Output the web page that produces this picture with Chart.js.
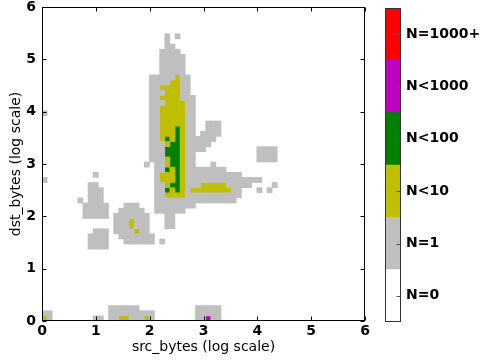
<!DOCTYPE html>
<html>
<head>
<meta charset="utf-8">
<script src="https://cdn.jsdelivr.net/npm/chart.js@4.4.1/dist/chart.umd.min.js"></script>
<style>
  body { margin: 0; background: #fff; }
  #wrap { position: relative; width: 481px; height: 362px; }
  #main { position: absolute; left: 0; top: 0; width: 375px; height: 362px; }
  #side { position: absolute; left: 375px; top: 0; width: 106px; height: 362px; }
</style>
</head>
<body>
<div id="wrap">
  <div id="main"><canvas id="heat"></canvas></div>
  <div id="side"><canvas id="scale"></canvas></div>
</div>
<script>
const FONT = 'DejaVu Sans'

// bin size of the 2d histogram, in log10 units
const BIN_X = 0.095
const BIN_Y = 0.098

const levelLabels = ['N=0', 'N=1', 'N<10', 'N<100', 'N<1000', 'N=1000+']
const levelColors = ['#ffffff', '#bfbfbf', '#bfbf00', '#008000', '#bf00bf', '#ff0000']
const tickValues = [0, 1, 2, 3, 4, 5, 6]

// one string per row of bins, top row first, bottom row (dst ~ 0) last
// each char is the level of a src bin: '.'=0, '1'=N=1, '2'=N<10, '3'=N<100, '4'=N<1000
// '|' is only a separator every 10 bins
const binRows = [
  '..........|..........|....1.1...',
  '..........|..........|....1.....',
  '..........|..........|....11....',
  '..........|..........|...1111...',
  '..........|..........|...11111..',
  '..........|..........|...11111..',
  '..........|..........|...11111..',
  '..........|..........|...11111..',
  '..........|..........|.11111211.',
  '..........|..........|.11112211.',
  '..........|..........|.11222211.',
  '..........|..........|.11122211.',
  '..........|..........|.112222111',
  '..........|..........|.111222211',
  '..........|..........|.112222211',
  '1.........|..........|.112222211',
  '..........|..........|.112222211',
  '..........|..........|.112222211|..111.....',
  '..........|..........|.112223211|..111.....',
  '..........|..........|.112223211|.1111.....',
  '..........|..........|.112323211|1111......',
  '..........|..........|.111233211|111.......',
  '..........|..........|.111333211|11........|..1111',
  '..........|..........|.111333211|..........|..1111',
  '..........|..........|.111233211|..........|..1111',
  '..........|..........|1.11233211|...1......',
  '..........|..........|..11323211|111111....',
  '..........|1.........|..12223211|111111111.',
  '1.........|..........|..12223211|1111111111|111...',
  '.........1|1.........|..11233211|1222221111|1....1',
  '.........1|11........|..11323212|222222211.|..1.1.',
  '.........1|11........|..11222211|111111111.',
  '.......1.1|11........|..11111111|11111111..',
  '........11|111...111.|..11111111',
  '........11|111..11111|..111111..',
  '........11|111.111111|1...11....',
  '..........|....111211|1...11....',
  '..........|....111211|1...11....',
  '..........|111.111121|1.........',
  '.........1|111..11111|11........',
  '.........1|111...1111|11.1......',
  '.........1|111.......',
  '', '', '', '', '', '', '', '', '', '', '',
  '..........|...111111.|..........|11111',
  '11........|...1111111|11........|11111',
  '21........|11.1122111|21........|11411'
]

const grid = binRows.map(s => s.replace(/\|/g, ''))
const nRows = grid.length
const nCols = Math.max(...grid.map(s => s.length))

function levelAt(col, row) {
  let ch = grid[nRows - 1 - row][col]
  return ch && ch !== '.' ? +ch : 0
}

// one dataset per level, each column split in vertical runs of the same level
let datasets = []
for (let lvl = 1; lvl < levelColors.length; lvl++) {
  let runs = []
  for (let c = 0; c < nCols; c++) {
    let r = 0
    while (r < nRows) {
      if (levelAt(c, r) === lvl) {
        let r0 = r
        while (r < nRows && levelAt(c, r) === lvl) r++
        runs.push({ x: (c + 0.5) * BIN_X, y: [r0 * BIN_Y, r * BIN_Y] })
      } else {
        r++
      }
    }
  }
  datasets.push({
    label: levelLabels[lvl],
    data: runs,
    backgroundColor: levelColors[lvl],
    barPercentage: 1,
    categoryPercentage: 1,
    grouped: false
  })
}

// matplotlib style box with inward ticks on all sides
const frameTicks = {
  id: 'frameTicks',
  afterDatasetsDraw(chart) {
    const { ctx, chartArea: a, scales: { x, y } } = chart
    const L = Math.round(a.left) + 0.5, R = Math.round(a.right) - 0.5
    const T = Math.round(a.top) + 0.5, B = Math.round(a.bottom) - 0.5
    ctx.save()
    ctx.strokeStyle = '#000'
    ctx.lineWidth = 1
    ctx.beginPath()
    for (let v of tickValues) {
      let px = Math.round(x.getPixelForValue(v)) + 0.5
      ctx.moveTo(px, B); ctx.lineTo(px, B - 4)
      ctx.moveTo(px, T); ctx.lineTo(px, T + 4)
      let py = Math.round(y.getPixelForValue(v)) + 0.5
      ctx.moveTo(L, py); ctx.lineTo(L + 4, py)
      ctx.moveTo(R, py); ctx.lineTo(R - 4, py)
    }
    ctx.stroke()
    ctx.strokeRect(L, T, R - L, B - T)
    ctx.restore()
  }
}

new Chart(document.getElementById('heat'), {
  type: 'bar',
  data: { datasets },
  options: {
    responsive: true,
    maintainAspectRatio: false,
    animation: false,
    events: [],
    layout: { padding: { left: 0, right: 10, top: 7, bottom: 0 } },
    plugins: { legend: { display: false }, tooltip: { enabled: false } },
    scales: {
      x: {
        type: 'linear', min: 0, max: 6, offset: false,
        grid: { display: false, drawTicks: false, offset: false },
        border: { display: false },
        ticks: { stepSize: 1, padding: 2, color: '#000', maxRotation: 0,
          font: { family: FONT, size: 14, weight: 'bold' } },
        title: { display: true, text: 'src_bytes (log scale)', color: '#000',
          font: { family: FONT, size: 14 }, padding: { top: 0, bottom: 6 } },
        afterFit: s => { s.height = 41; s.paddingLeft = 0; s.paddingRight = 0 }
      },
      y: {
        type: 'linear', min: 0, max: 6,
        grid: { display: false, drawTicks: false },
        border: { display: false },
        ticks: { stepSize: 1, padding: 6, color: '#000',
          font: { family: FONT, size: 14, weight: 'bold' } },
        title: { display: true, text: 'dst_bytes (log scale)', color: '#000',
          font: { family: FONT, size: 14 }, padding: { top: 8, bottom: 0 } },
        afterFit: s => { s.width = 42; s.paddingTop = 0; s.paddingBottom = 0 }
      }
    }
  },
  plugins: [frameTicks]
})

// colour bar
const barFrame = {
  id: 'barFrame',
  afterDatasetsDraw(chart) {
    const { ctx, chartArea: a, scales: { y } } = chart
    const L = Math.round(a.left) + 0.5, R = Math.round(a.right) - 0.5
    const T = Math.round(a.top) + 0.5, B = Math.round(a.bottom) - 0.5
    ctx.save()
    ctx.strokeStyle = '#555'
    ctx.lineWidth = 1
    ctx.beginPath()
    levelLabels.forEach((_, i) => {
      let py = Math.round(y.getPixelForValue(i + 0.5)) + 0.5
      ctx.moveTo(R, py); ctx.lineTo(R - 4, py)
    })
    ctx.stroke()
    ctx.strokeStyle = '#333'
    ctx.strokeRect(L, T, R - L, B - T)
    ctx.restore()
  }
}

new Chart(document.getElementById('scale'), {
  type: 'bar',
  data: {
    labels: [''],
    datasets: levelColors.map((c, i) => ({
      label: levelLabels[i], data: [1], backgroundColor: c,
      barPercentage: 1, categoryPercentage: 1
    }))
  },
  options: {
    responsive: true,
    maintainAspectRatio: false,
    animation: false,
    events: [],
    layout: { padding: { left: 10, right: 0, top: 8, bottom: 40 } },
    plugins: { legend: { display: false }, tooltip: { enabled: false } },
    scales: {
      x: { stacked: true, display: false },
      y: {
        stacked: true, position: 'right', min: 0, max: 6,
        grid: { display: false, drawTicks: false },
        border: { display: false },
        afterBuildTicks: s => { s.ticks = levelLabels.map((_, i) => ({ value: i + 0.5 })) },
        ticks: { padding: 5, color: '#000', font: { family: FONT, size: 14, weight: 'bold' },
          callback: v => levelLabels[Math.floor(v)] },
        afterFit: s => { s.width = 80; s.paddingTop = 0; s.paddingBottom = 0 }
      }
    }
  },
  plugins: [barFrame]
})
</script>
</body>
</html>
